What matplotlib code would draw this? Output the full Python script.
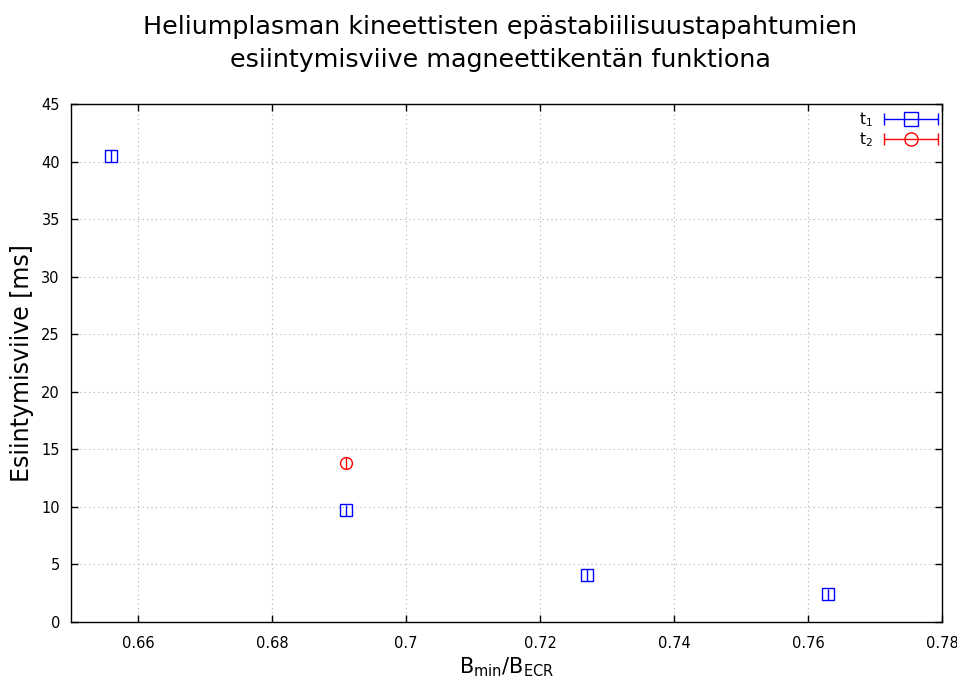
import matplotlib
matplotlib.use("Agg")
import matplotlib.pyplot as plt
from matplotlib.container import ErrorbarContainer
from matplotlib.legend_handler import HandlerErrorbar
import numpy as np

plt.rcParams['font.family'] = ['DejaVu Sans']
plt.rcParams['mathtext.default'] = 'regular'

# Measured delay of kinetic instabilities vs. normalized magnetic field
b_ratio_t1 = [0.656, 0.691, 0.727, 0.763]
delay_t1 = [40.5, 9.7, 4.1, 2.4]
err_t1 = [0.5, 0.5, 0.5, 0.5]

b_ratio_t2 = [0.691]
delay_t2 = [13.8]
err_t2 = [0.5]

x_ticks = [0.66, 0.68, 0.70, 0.72, 0.74, 0.76, 0.78]
x_tick_labels = ["0.66", "0.68", "0.7", "0.72", "0.74", "0.76", "0.78"]
y_ticks = [0, 5, 10, 15, 20, 25, 30, 35, 40, 45]

fig = plt.figure(figsize=(9.57, 6.82), dpi=100)
ax = fig.add_axes([0.0742, 0.088, 0.9101, 0.7595])

ax.errorbar(b_ratio_t1, delay_t1, yerr=err_t1, fmt='s', color='blue',
            mfc='none', mec='blue', ms=8.5, mew=1.0, elinewidth=1.0,
            capsize=0, zorder=3)
ax.errorbar(b_ratio_t2, delay_t2, yerr=err_t2, fmt='o', color='red',
            mfc='none', mec='red', ms=8.5, mew=1.0, elinewidth=1.0,
            capsize=0, zorder=3)

# legend proxies with horizontal error bars, gnuplot style
h1 = ax.errorbar([np.nan], [np.nan], xerr=[1], fmt='s', color='blue',
                 mfc='none', mec='blue', ms=9.5, mew=1.0, elinewidth=1.0,
                 capsize=4, label='t$_1$')
h2 = ax.errorbar([np.nan], [np.nan], xerr=[1], fmt='o', color='red',
                 mfc='none', mec='red', ms=9.5, mew=1.0, elinewidth=1.0,
                 capsize=4, label='t$_2$')
leg = ax.legend(handles=[h1, h2], loc='upper right', frameon=False,
                fontsize=11, markerfirst=False, handlelength=3.8,
                borderaxespad=0.25, labelspacing=0.1, handletextpad=0.6,
                handler_map={ErrorbarContainer: HandlerErrorbar(xerr_size=1.75)},
                bbox_to_anchor=(1.009, 1.007))

ax.set_xlim(0.65, 0.78)
ax.set_ylim(0, 45)
ax.set_xticks(x_ticks)
ax.set_xticklabels(x_tick_labels)
ax.set_yticks(y_ticks)
ax.tick_params(direction='in', top=True, right=True, length=5,
               labelsize=10.5, pad=8, width=1)
ax.tick_params(axis='x', pad=10)
ax.grid(True, linestyle=(0, (1, 3)), color='#b0b0b0', linewidth=0.8)
for s in ax.spines.values():
    s.set_linewidth(1.0)

ax.set_xlabel(r"B$_{\mathrm{min}}$/B$_{\mathrm{ECR}}$", fontsize=15, labelpad=3)
ax.set_ylabel("Esiintymisviive [ms]", fontsize=17, labelpad=5)

fig.suptitle("Heliumplasman kineettisten epästabiilisuustapahtumien\n"
             "esiintymisviive magneettikentän funktiona",
             fontsize=18.3, x=0.523, y=0.978, linespacing=1.45)

fig.savefig("out.png", dpi=100)
